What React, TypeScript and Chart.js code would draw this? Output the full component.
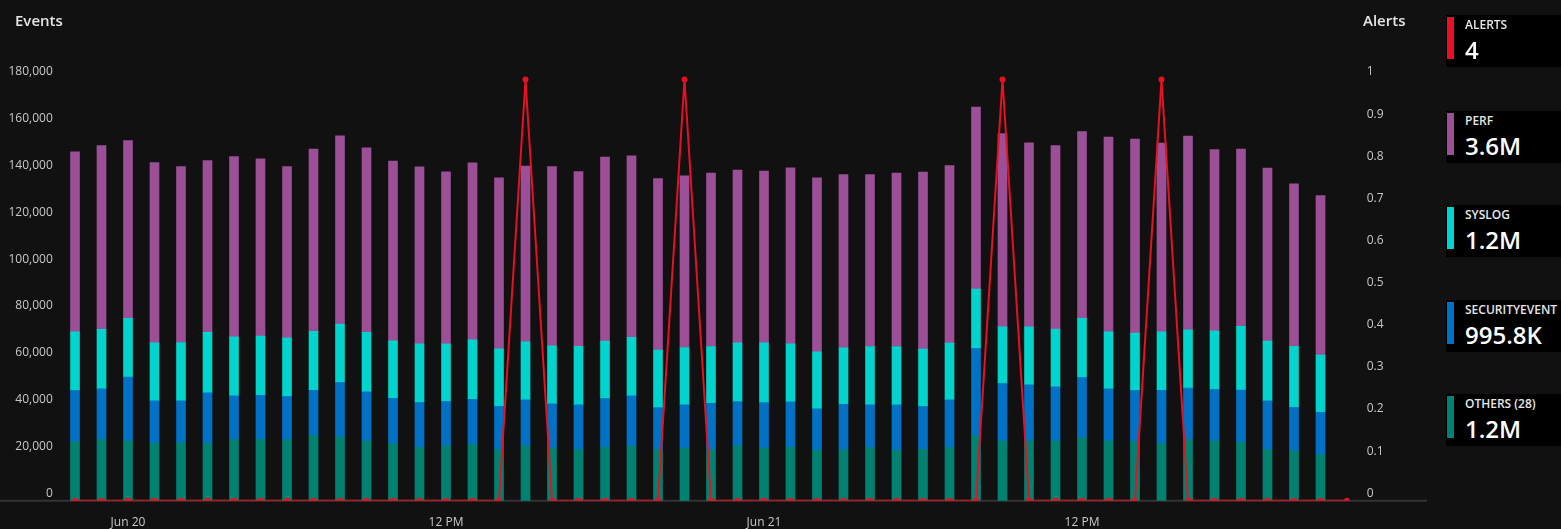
import React, { useEffect, useRef } from "react";
import { Chart, registerables } from "chart.js";

Chart.register(...registerables);

// Hourly categories: Jun 19 10 PM … Jun 21 10 PM
const categories = [
  "Jun 19 10 PM", "Jun 19 11 PM",
  "Jun 20 12 AM", "Jun 20 1 AM", "Jun 20 2 AM", "Jun 20 3 AM", "Jun 20 4 AM", "Jun 20 5 AM",
  "Jun 20 6 AM", "Jun 20 7 AM", "Jun 20 8 AM", "Jun 20 9 AM", "Jun 20 10 AM", "Jun 20 11 AM",
  "Jun 20 12 PM", "Jun 20 1 PM", "Jun 20 2 PM", "Jun 20 3 PM", "Jun 20 4 PM", "Jun 20 5 PM",
  "Jun 20 6 PM", "Jun 20 7 PM", "Jun 20 8 PM", "Jun 20 9 PM", "Jun 20 10 PM", "Jun 20 11 PM",
  "Jun 21 12 AM", "Jun 21 1 AM", "Jun 21 2 AM", "Jun 21 3 AM", "Jun 21 4 AM", "Jun 21 5 AM",
  "Jun 21 6 AM", "Jun 21 7 AM", "Jun 21 8 AM", "Jun 21 9 AM", "Jun 21 10 AM", "Jun 21 11 AM",
  "Jun 21 12 PM", "Jun 21 1 PM", "Jun 21 2 PM", "Jun 21 3 PM", "Jun 21 4 PM", "Jun 21 5 PM",
  "Jun 21 6 PM", "Jun 21 7 PM", "Jun 21 8 PM", "Jun 21 9 PM", "Jun 21 10 PM",
];

const axisTickCategories = ["Jun 20 12 AM", "Jun 20 12 PM", "Jun 21 12 AM", "Jun 21 12 PM"];
const axisTickTexts = ["Jun 20", "12 PM", "Jun 21", "12 PM"];

const others = [
  25110, 26250, 25540, 24540, 24820, 24400, 26250, 26250, 25970, 27960, 27250, 25540,
  24400, 22830, 23400, 24110, 21970, 23400, 22540, 21830, 22830, 23260, 21970, 22540,
  21970, 23540, 22540, 22830, 21540, 21830, 22680, 21540, 21970, 22680, 27680, 25540,
  25540, 25540, 26960, 25540, 25110, 24540, 26250, 25540, 24970, 21830, 21260, 19550,
];
const securityEvent = [
  22110, 21540, 27250, 18120, 17830, 21690, 18550, 18830, 18550, 19260, 23250, 20970,
  19400, 19120, 18980, 19260, 18400, 19690, 18830, 19120, 20830, 21540, 17830, 18400,
  19690, 18830, 19400, 19400, 17690, 19400, 18260, 19400, 18400, 20400, 37380, 24540,
  23970, 23110, 25680, 22260, 21970, 22680, 21830, 21970, 22260, 20830, 18690, 18260,
];
const syslog = [
  24970, 25400, 25110, 24820, 24970, 25820, 25250, 25250, 25110, 25110, 24970, 25400,
  24540, 25110, 24680, 25400, 24540, 24820, 24820, 24970, 24540, 24970, 24540, 24540,
  24250, 25110, 25540, 24820, 24400, 24110, 24970, 24970, 24400, 24250, 25400, 24250,
  24820, 24680, 25250, 24400, 24540, 24970, 24970, 25110, 27250, 25540, 25970, 24400,
];
const perf = [
  76900, 78610, 76040, 77040, 75190, 73470, 77040, 75760, 73190, 77900, 80470, 78900,
  76760, 75620, 73470, 75620, 73050, 75040, 76610, 74760, 78610, 77610, 73330, 73330,
  74050, 73760, 73330, 75190, 74330, 74050, 73470, 74050, 75620, 75900, 77760, 82610,
  78610, 78470, 79900, 83180, 82890, 80610, 82750, 77470, 75760, 73900, 69480, 68200,
];
const alerts = [
  0, 0, 0, 0, 0, 0, 0, 0, 0, 0, 0, 0, 0, 0, 0, 0, 0, 1, 0, 0, 0, 0, 0, 1, 0,
  0, 0, 0, 0, 0, 0, 0, 0, 0, 0, 1, 0, 0, 0, 0, 0, 1, 0, 0, 0, 0, 0, 0, 0,
];

const legendNames = ["ALERTS", "PERF", "SYSLOG", "SECURITYEVENT", "OTHERS (28)"];
const legendTotals = ["4", "3.6M", "1.2M", "995.8K", "1.2M"];
const legendColors = ["#E81123", "#9B4F96", "#00D4CC", "#0072C6", "#008272"];
const legendTops = [15, 111, 205, 300, 394];

const FONT = "'Open Sans', 'Noto Sans', sans-serif";

const baselinePlugin = {
  id: "baseline",
  beforeDatasetsDraw(chart: any) {
    const { ctx, chartArea } = chart;
    ctx.save();
    ctx.strokeStyle = "#333333";
    ctx.lineWidth = 2;
    ctx.beginPath();
    ctx.moveTo(0, chartArea.bottom);
    ctx.lineTo(1427, chartArea.bottom);
    ctx.stroke();
    ctx.restore();
  },
};

export default function App() {
  const canvasRef = useRef<HTMLCanvasElement | null>(null);

  useEffect(() => {
    if (!canvasRef.current) return;
    const tickColor = "#c8c8c8";
    const chart = new Chart(canvasRef.current, {
      type: "bar",
      data: {
        labels: categories,
        datasets: [
          {
            type: "line",
            label: "ALERTS",
            data: alerts,
            yAxisID: "y1",
            borderColor: "#E81123",
            backgroundColor: "#E81123",
            borderWidth: 2,
            pointRadius: 3,
            pointBorderWidth: 0,
            pointBackgroundColor: "#E81123",
            tension: 0,
            order: 0,
            stack: "alerts",
            clip: { left: 10, top: 10, right: 10, bottom: 0 },
          } as any,
          {
            label: "OTHERS (28)",
            data: others,
            backgroundColor: "#008272",
            yAxisID: "y",
            stack: "events",
            barThickness: 9,
            order: 1,
          },
          {
            label: "SECURITYEVENT",
            data: securityEvent,
            backgroundColor: "#0072C6",
            yAxisID: "y",
            stack: "events",
            barThickness: 9,
            order: 1,
          },
          {
            label: "SYSLOG",
            data: syslog,
            backgroundColor: "#00D4CC",
            yAxisID: "y",
            stack: "events",
            barThickness: 9,
            order: 1,
          },
          {
            label: "PERF",
            data: perf,
            backgroundColor: "#9B4F96",
            yAxisID: "y",
            stack: "events",
            barThickness: 9,
            order: 1,
          },
        ],
      },
      options: {
        animation: false,
        responsive: false,
        maintainAspectRatio: false,
        layout: { padding: { top: 79.5, left: 0, right: 0, bottom: 0 } },
        plugins: {
          legend: { display: false },
          tooltip: { enabled: false },
          title: { display: false },
        },
        scales: {
          x: {
            type: "category",
            stacked: true,
            offset: true,
            grid: { display: false, drawTicks: false },
            border: { display: false },
            ticks: {
              autoSkip: false,
              maxRotation: 0,
              minRotation: 0,
              padding: 15,
              color: tickColor,
              font: { family: FONT, size: 12 },
              callback: function (this: any, value: any) {
                const cat = this.getLabelForValue(value);
                const i = axisTickCategories.indexOf(cat);
                return i >= 0 ? axisTickTexts[i] : "";
              },
            },
            afterFit: (scale: any) => {
              scale.height = 28.3;
            },
          },
          y: {
            type: "linear",
            position: "left",
            stacked: true,
            min: 0,
            max: 180000,
            grid: { display: false, drawTicks: false },
            border: { display: false },
            ticks: {
              stepSize: 20000,
              padding: 9,
              labelOffset: -7.5,
              color: tickColor,
              font: { family: FONT, size: 12 },
            },
            afterFit: (scale: any) => {
              scale.width = 61.75;
            },
          },
          y1: {
            type: "linear",
            position: "right",
            stacked: false,
            min: 0,
            max: 1,
            grid: { display: false, drawTicks: false },
            border: { display: false },
            ticks: {
              stepSize: 0.1,
              padding: 6.5,
              labelOffset: -7.5,
              color: tickColor,
              font: { family: FONT, size: 12 },
              callback: (value: any) => String(Number(Number(value).toFixed(1))),
            },
            afterFit: (scale: any) => {
              scale.width = 79.75;
            },
          },
        },
      } as any,
      plugins: [baselinePlugin],
    });
    return () => chart.destroy();
  }, []);

  return (
    <div
      style={{
        position: "fixed",
        left: 0,
        top: 0,
        width: 1561,
        height: 529,
        background: "#111111",
        overflow: "hidden",
        fontFamily: FONT,
      }}
    >
      <canvas
        ref={canvasRef}
        width={1440}
        height={529}
        style={{ position: "absolute", left: 0, top: 0, width: 1440, height: 529 }}
      />
      <div
        style={{
          position: "absolute",
          left: 15,
          top: 13.1,
          fontSize: 15,
          lineHeight: 1,
          fontWeight: 600,
          color: "#e6e6e6",
          whiteSpace: "nowrap",
        }}
      >
        Events
      </div>
      <div
        style={{
          position: "absolute",
          left: 1363,
          top: 13.1,
          fontSize: 15,
          lineHeight: 1,
          fontWeight: 600,
          color: "#e6e6e6",
          whiteSpace: "nowrap",
        }}
      >
        Alerts
      </div>
      {legendNames.map((name, i) => (
        <div
          key={name}
          style={{
            position: "absolute",
            left: 1446,
            top: legendTops[i],
            width: 120,
            height: 52,
            background: "#000000",
          }}
        >
          <div
            style={{
              position: "absolute",
              left: 1.3,
              top: 2.3,
              width: 6.7,
              height: 42,
              background: legendColors[i],
            }}
          />
          <div
            style={{
              position: "absolute",
              left: 19,
              top: 3.9,
              fontSize: 12,
              lineHeight: 1,
              fontWeight: 600,
              color: "#e6e6e6",
              whiteSpace: "nowrap",
            }}
          >
            {name}
          </div>
          <div
            style={{
              position: "absolute",
              left: 19,
              top: 23.2,
              fontSize: 24,
              lineHeight: 1,
              fontWeight: 600,
              color: "#ffffff",
              whiteSpace: "nowrap",
            }}
          >
            {legendTotals[i]}
          </div>
        </div>
      ))}
    </div>
  );
}
